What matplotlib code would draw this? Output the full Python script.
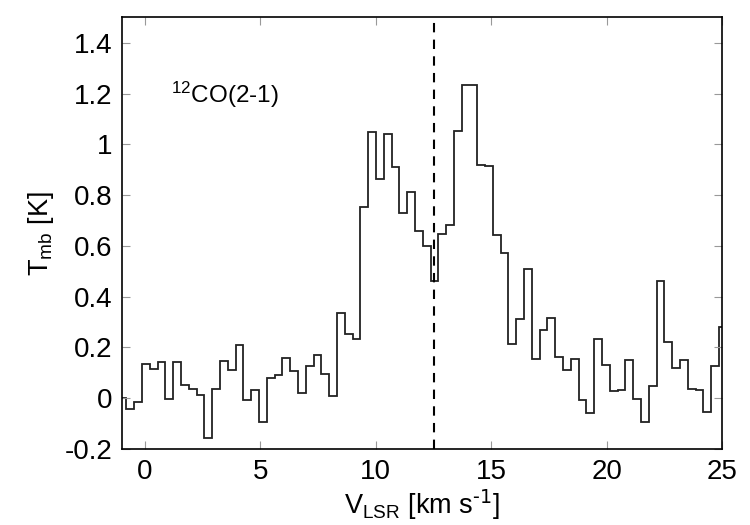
import numpy as np
import matplotlib
matplotlib.use("Agg")
import matplotlib.pyplot as plt

plt.rcParams['font.family'] = ['Liberation Sans', 'DejaVu Sans']
plt.rcParams['mathtext.default'] = 'regular'

# spectrum: channel start edge and width (km/s)
v_first_edge = -1.144
dv = 0.3378

tmb = [0.000, -0.043, -0.013, 0.134, 0.117, 0.144, -0.003, 0.144, 0.051, 0.035,
       0.013, -0.157, 0.035, 0.148, 0.113, 0.209, -0.007, 0.033, -0.094, 0.080,
       0.090, 0.160, 0.107, 0.021, 0.126, 0.169, 0.096, 0.010, 0.337, 0.252,
       0.233, 0.752, 1.047, 0.862, 1.041, 0.909, 0.728, 0.811, 0.659, 0.601,
       0.463, 0.646, 0.681, 1.051, 1.235, 1.232, 0.917, 0.913, 0.641, 0.571,
       0.214, 0.312, 0.510, 0.156, 0.268, 0.316, 0.161, 0.111, 0.154, -0.007,
       -0.060, 0.232, 0.132, 0.029, 0.033, 0.151, -0.004, -0.093, 0.050, 0.461,
       0.223, 0.119, 0.151, 0.035, 0.031, -0.055, 0.127, 0.282]

v_sys = 12.5
xticks = [0, 5, 10, 15, 20, 25]
yticks = [-0.2, 0, 0.2, 0.4, 0.6, 0.8, 1.0, 1.2, 1.4]
ytick_labels = ['-0.2', '0', '0.2', '0.4', '0.6', '0.8', '1', '1.2', '1.4']

edges = v_first_edge + dv * np.arange(len(tmb) + 1)

fig = plt.figure(figsize=(7.5, 5.25), dpi=100)
ax = fig.add_axes([0.1627, 0.1448, 0.80, 0.822])

ax.stairs(tmb, edges, color='#222222', lw=1.3, baseline=None)
ax.axvline(v_sys, color='black', lw=1.5, ls=(0, (4.5, 3.5)))

ax.set_xlim(-1, 25)
ax.set_ylim(-0.2, 1.5)
ax.set_xticks(xticks)
ax.set_xticklabels([str(t) for t in xticks])
ax.set_yticks(yticks)
ax.set_yticklabels(ytick_labels)
ax.tick_params(direction='in', top=True, right=True, length=6, width=0.8,
               color='#999999', labelsize=20, pad=7)
for s in ax.spines.values():
    s.set_linewidth(1.2)
    s.set_color('black')

ax.set_xlabel(r'$V_{LSR}$ [km s$^{\text{-1}}$]', fontsize=19.5, labelpad=2)
ax.set_ylabel(r'$T_{mb}$ [K]', fontsize=19.5, labelpad=6)

ax.text(0.082, 0.82, r'$^{12}$CO(2-1)', transform=ax.transAxes, fontsize=17.5,
        ha='left', va='center')

fig.savefig('out.png', dpi=100)
